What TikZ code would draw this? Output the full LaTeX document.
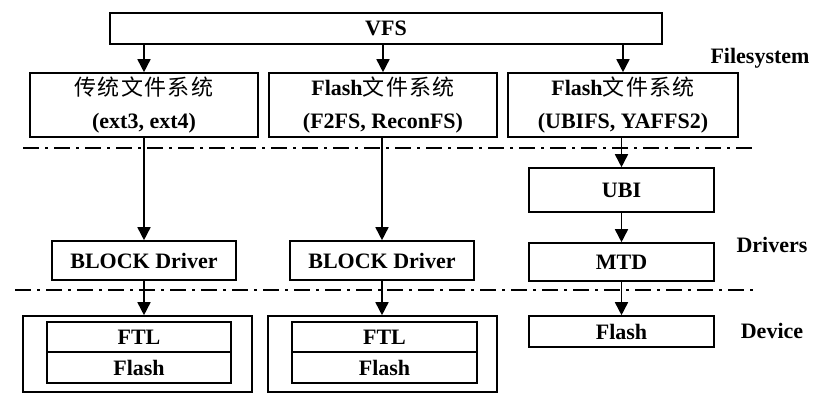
\documentclass[tikz,border=0pt]{standalone}
\usepackage{fontspec}
\setmainfont{Liberation Serif}
\newfontfamily\cjk[LetterSpace=6]{Noto Sans CJK SC}
\usetikzlibrary{arrows.meta}
\begin{document}
\begin{tikzpicture}[x=1pt,y=-1pt,
  box/.style={draw, line width=1.6pt, inner sep=0pt, font=\fontsize{22}{33}\selectfont\bfseries, align=center},
  arr/.style={line width=1.6pt, -{Triangle[width=13pt,length=13pt]}},
  sep/.style={line width=1.4pt, dash pattern=on 16pt off 6pt on 3pt off 6pt},
  lbl/.style={font=\fontsize{22}{26}\selectfont\bfseries, inner sep=0pt}]
\useasboundingbox (0,0) rectangle (831,410);
% top
\node[box, minimum width=552pt, minimum height=31pt] (vfs) at (386,28.5) {VFS};
\node[box, minimum width=228pt, minimum height=64pt] (fs1) at (144,105) {{\cjk\mdseries 传统文件系统}\\(ext3, ext4)};
\node[box, minimum width=228pt, minimum height=64pt] (fs2) at (383,105) {Flash{\cjk\mdseries 文件系统}\\(F2FS, ReconFS)};
\node[box, minimum width=230pt, minimum height=64pt] (fs3) at (623,105) {Flash{\cjk\mdseries 文件系统}\\(UBIFS, YAFFS2)};
% drivers
\node[box, minimum width=185pt, minimum height=44pt] (ubi) at (621.5,190) {UBI};
\node[box, minimum width=185pt, minimum height=38pt] (mtd) at (621.5,262) {MTD};
\node[box, minimum width=184pt, minimum height=39pt] (bd1) at (144,260.5) {BLOCK Driver};
\node[box, minimum width=184pt, minimum height=39pt] (bd2) at (382,260.5) {BLOCK Driver};
% devices
\node[box, minimum width=229pt, minimum height=76pt] (dev1) at (137.5,354) {};
\node[box, minimum width=184pt, minimum height=30pt] (ftl1) at (139,337) {FTL};
\node[box, minimum width=184pt, minimum height=31pt] (fl1) at (139,367.5) {Flash};
\node[box, minimum width=229pt, minimum height=76pt] (dev2) at (382.5,354) {};
\node[box, minimum width=185pt, minimum height=30pt] (ftl2) at (384.5,337) {FTL};
\node[box, minimum width=185pt, minimum height=31pt] (fl2) at (384.5,367.5) {Flash};
\node[box, minimum width=185pt, minimum height=31pt] (fl3) at (621.5,331.5) {Flash};
% labels
\node[lbl] (lfs) at (760,58) {Filesystem};
\node[lbl] (ldr) at (772,245) {Drivers};
\node[lbl] (ldv) at (772,331) {Device};
% separators
\coordinate (s1a) at (23,148); \coordinate (s1b) at (757,148);
\coordinate (s2a) at (15,290); \coordinate (s2b) at (757,290);
\draw[sep] (s1a) -- (s1b);
\draw[sep] (s2a) -- (s2b);
% arrows
\draw[arr] (vfs.south -| fs1) -- (fs1.north);
\draw[arr] (vfs.south -| fs2) -- (fs2.north);
\draw[arr] (vfs.south -| fs3) -- (fs3.north);
\draw[arr] (fs1.south) -- (bd1.north);
\draw[arr] (fs2.south -| bd2) -- (bd2.north);
\draw[arr] (fs3.south -| ubi) -- (ubi.north);
\draw[arr] (ubi.south) -- (mtd.north);
\draw[arr] (mtd.south) -- (fl3.north);
\draw[arr] (bd1.south) -- (bd1.south |- dev1.north);
\draw[arr] (bd2.south) -- (bd2.south |- dev2.north);
\end{tikzpicture}
\end{document}
